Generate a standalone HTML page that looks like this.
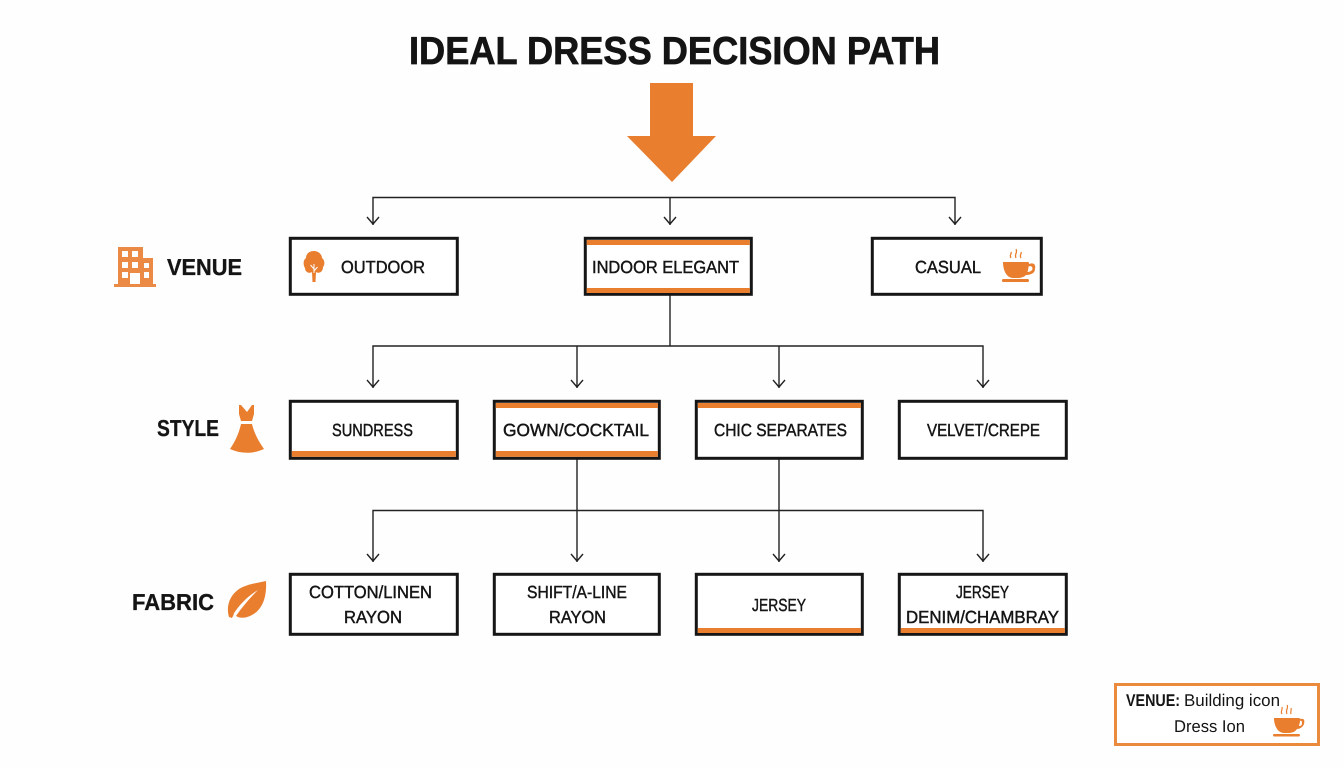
<!DOCTYPE html>
<html><head><meta charset="utf-8"><title>Ideal Dress Decision Path</title>
<style>html,body{margin:0;padding:0;background:#fff}svg{display:block}
text{font-family:"Liberation Sans",sans-serif;fill:#141414;text-rendering:geometricPrecision}
.b{font-size:17.5px;stroke:#141414;stroke-width:.45}
.h{font-size:23px;font-weight:bold;stroke:#141414;stroke-width:.3}
.box{fill:#fff;stroke:#161616;stroke-width:3}
.o{fill:#E97E2E}
.c{fill:none;stroke:#222;stroke-width:1.4}
</style></head><body>
<svg width="1344" height="768" viewBox="0 0 1344 768" xmlns="http://www.w3.org/2000/svg">
<rect width="1344" height="768" fill="#fefefe"/>
<text x="409" y="64" font-size="39" font-weight="bold" stroke="#141414" stroke-width=".7" textLength="531" lengthAdjust="spacingAndGlyphs">IDEAL DRESS DECISION PATH</text>
<polygon class="o" points="650,83 693,83 693,136 716,136 672,182 627,136 650,136"/>

<!-- connectors -->
<path class="c" d="M373 225V197.500H955V225M670 197.500V225"/>
<path class="c" d="M367 217L373 224L379 217M664 217L670 224L676 217M949 217L955 224L961 217"/>
<path class="c" d="M670 295V346M373 388V346H983V388M577 346V388M779 346V388"/>
<path class="c" d="M367 380L373 387L379 380M571 380L577 387L583 380M773 380L779 387L785 380M977 380L983 387L989 380"/>
<path class="c" d="M373 562V510.500H983V562M577 459V562M779 459V562"/>
<path class="c" d="M367 554L373 561L379 554M571 554L577 561L583 554M773 554L779 561L785 554M977 554L983 561L989 554"/>

<!-- venue row -->
<rect class="box" x="290.300" y="238.300" width="167" height="56"/>
<rect class="box" x="585.300" y="238.300" width="166" height="56"/>
<rect class="o" x="586.800" y="240" width="163" height="5"/><rect class="o" x="586.800" y="288" width="163" height="5"/>
<rect class="box" x="872.300" y="238.300" width="169" height="56"/>
<!-- style row -->
<rect class="box" x="290.300" y="401.300" width="167" height="57"/>
<rect class="o" x="291.800" y="451" width="164" height="5.800"/>
<rect class="box" x="494.300" y="401.300" width="165" height="57"/>
<rect class="o" x="495.800" y="403" width="162" height="5"/><rect class="o" x="495.800" y="451" width="162" height="5.800"/>
<rect class="box" x="696.300" y="401.300" width="166" height="57"/>
<rect class="o" x="697.800" y="403" width="163" height="5"/>
<rect class="box" x="899.300" y="401.300" width="167" height="57"/>
<!-- fabric row -->
<rect class="box" x="290.300" y="574.300" width="167" height="60"/>
<rect class="box" x="494.300" y="574.300" width="165" height="60"/>
<rect class="box" x="696.300" y="574.300" width="166" height="60"/>
<rect class="o" x="697.800" y="628" width="163" height="5"/>
<rect class="box" x="899.300" y="574.300" width="167" height="60"/>
<rect class="o" x="900.800" y="628" width="164" height="5"/>

<!-- labels -->
<text class="h" x="167" y="275" textLength="75" lengthAdjust="spacingAndGlyphs">VENUE</text>
<text class="h" x="157" y="436" textLength="62" lengthAdjust="spacingAndGlyphs">STYLE</text>
<text class="h" x="132" y="610" textLength="82" lengthAdjust="spacingAndGlyphs">FABRIC</text>

<text class="b" x="341" y="273" textLength="84" lengthAdjust="spacingAndGlyphs">OUTDOOR</text>
<text class="b" x="592" y="273" textLength="147" lengthAdjust="spacingAndGlyphs">INDOOR ELEGANT</text>
<text class="b" x="915" y="273" textLength="66" lengthAdjust="spacingAndGlyphs">CASUAL</text>
<text class="b" x="332" y="436" textLength="81" lengthAdjust="spacingAndGlyphs">SUNDRESS</text>
<text class="b" x="503" y="436" textLength="146" lengthAdjust="spacingAndGlyphs">GOWN/COCKTAIL</text>
<text class="b" x="714" y="436" textLength="133" lengthAdjust="spacingAndGlyphs">CHIC SEPARATES</text>
<text class="b" x="927" y="436" textLength="113" lengthAdjust="spacingAndGlyphs">VELVET/CREPE</text>
<text class="b" x="309" y="598" textLength="123" lengthAdjust="spacingAndGlyphs">COTTON/LINEN</text>
<text class="b" x="344" y="623" textLength="58" lengthAdjust="spacingAndGlyphs">RAYON</text>
<text class="b" x="527" y="598" textLength="100" lengthAdjust="spacingAndGlyphs">SHIFT/A-LINE</text>
<text class="b" x="549" y="623" textLength="57" lengthAdjust="spacingAndGlyphs">RAYON</text>
<text class="b" x="752" y="611" textLength="54" lengthAdjust="spacingAndGlyphs">JERSEY</text>
<text class="b" x="956" y="598" textLength="53" lengthAdjust="spacingAndGlyphs">JERSEY</text>
<text class="b" x="906" y="623" textLength="153" lengthAdjust="spacingAndGlyphs">DENIM/CHAMBRAY</text>

<!-- building icon -->
<path d="M118 247H143V258H153V284H118ZM122 251V257H128V251ZM132 251V257H138V251ZM122 262V268H128V262ZM132 262V268H138V262ZM144 263V268H149V263ZM122 272V278H128V272ZM144 272V278H149V272ZM130 273V284H140V273Z" fill="#EA8A45" fill-rule="evenodd"/>
<rect x="114" y="284" width="42" height="3" fill="#EA8A45"/>
<!-- tree icon -->
<path class="o" d="M314 251C319 251 322 255 322 258C325 260 325 265 323 267C323 272 319 274 316 272L315.500 282H312.500L312 272C309 274 305 272 305 268C303 265 303 260 306 258C306 254 309 251 314 251Z"/>
<path d="M314 264V273M314 269L310.500 265M314 271L317.500 267" stroke="#fff" stroke-width="1" fill="none"/>
<!-- cup icon -->
<path class="o" fill-rule="evenodd" d="M1003 262H1028C1029 262 1029 263 1029 264C1034 262 1036 265 1035 269C1035 273 1031 275 1026 275C1024 277 1021 278 1017 278H1013C1007 278 1003 271 1003 262ZM1028.500 266.500C1028.500 268 1028 270 1027.500 272C1030 272 1032.500 270.500 1032.500 268.500C1032.500 266.500 1030.500 265.500 1028.500 266.500Z"/>
<rect class="o" x="1002" y="279" width="27" height="3" rx="1.400"/>
<path d="M1011 258C1009 255 1012 254 1011 252M1016 258C1014 254 1018 253 1016 249M1021 258C1019 255 1022 254 1021 252" fill="none" stroke="#E97E2E" stroke-width="1.300"/>
<!-- dress icon -->
<path class="o" d="M239 405L241 405L247 412L252 405L254 405L254 414L252 421H241L239 414Z"/>
<path class="o" d="M241 424H252C254 433 259 442 264 449C253 454 241 454 230 449C235 442 239 433 241 424Z"/>
<!-- leaf icon -->
<path class="o" d="M266 581C267 598 262 611 250 616C243 619 237 618 234 614L232 618L229 617C226 607 229 596 239 589C247 584 257 583 266 581Z"/>
<path d="M233.500 614C240 604 248 596 258 590C250 598 243 606 236 616Z" fill="#fff"/>

<!-- legend -->
<rect x="1115.500" y="684.500" width="203" height="60" fill="#fff" stroke="#E98A3C" stroke-width="3"/>
<text x="1126" y="706" font-size="17" font-weight="bold" textLength="54" lengthAdjust="spacingAndGlyphs">VENUE:</text>
<text x="1184" y="706" font-size="17" textLength="96" lengthAdjust="spacingAndGlyphs">Building icon</text>
<text x="1174" y="732" font-size="17" textLength="71" lengthAdjust="spacingAndGlyphs">Dress Ion</text>
<path class="o" fill-rule="evenodd" d="M1274 718H1299C1300 718 1300 719 1300 719C1304 718 1305 720 1304 724C1303 727 1300 729 1297 729C1295 732 1292 733 1288 733H1284C1278 733 1274 726 1274 718ZM1300 721C1300 723 1299 725 1299 726C1301 726 1302 725 1302 723C1302 721 1301 720 1300 721Z"/>
<rect class="o" x="1273" y="734" width="27" height="2.500" rx="1.200"/>
<path d="M1282 714C1280 711 1283 710 1282 707M1287 714C1285 710 1289 708 1287 705M1291 714C1290 711 1292 710 1291 708" fill="none" stroke="#E97E2E" stroke-width="1.200"/>
</svg>
</body></html>
